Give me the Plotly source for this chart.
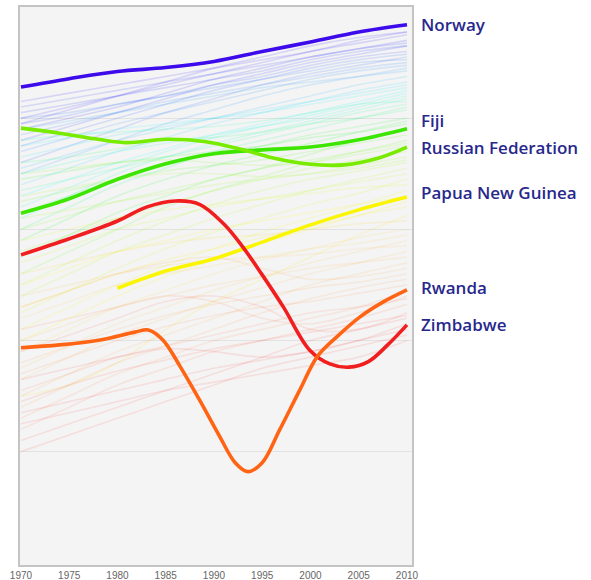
import plotly.graph_objects as go
import colorsys

# ---------------- data ----------------
years5 = [1970, 1975, 1980, 1985, 1990, 1995, 2000, 2005, 2010]
x_ticks = [1970, 1975, 1980, 1985, 1990, 1995, 2000, 2005, 2010]

norway_years = [1970, 1975, 1980, 1985, 1990, 1995, 2000, 2005, 2010]
norway_vals = [0.856, 0.871, 0.884, 0.891, 0.902, 0.920, 0.937, 0.955, 0.968]

russia_years = [1970, 1974, 1978, 1981, 1985, 1989, 1993, 1996.5, 2000, 2003.5, 2007, 2010]
russia_vals = [0.782, 0.773, 0.762, 0.756, 0.762, 0.758, 0.743, 0.727, 0.717, 0.716, 0.728, 0.748]

fiji_years = [1970, 1975, 1980, 1985, 1990, 1995, 2000, 2005, 2010]
fiji_vals = [0.629, 0.655, 0.690, 0.718, 0.736, 0.743, 0.748, 0.761, 0.781]

png_years = [1980, 1985, 1990, 1995, 2000, 2005, 2010]
png_vals = [0.494, 0.525, 0.547, 0.577, 0.608, 0.635, 0.658]

zimbabwe_years = [1970, 1975, 1980, 1983, 1986, 1988.5, 1991, 1993, 1995, 1997.2, 1999.9,
                  2002, 2004, 2006, 2008, 2010]
zimbabwe_vals = [0.554, 0.583, 0.615, 0.640, 0.651, 0.645, 0.610, 0.568, 0.518, 0.460, 0.383,
                 0.358, 0.352, 0.362, 0.392, 0.428]

rwanda_years = [1970, 1974, 1978.2, 1981.8, 1983.2, 1984.7, 1986.5, 1988.5, 1990.6, 1992.2, 1993.5,
                1995, 1996.8, 1998.9, 2000.7, 2002.7, 2005.1, 2007.5, 2010]
rwanda_vals = [0.387, 0.392, 0.401, 0.415, 0.419, 0.401, 0.353, 0.293, 0.227, 0.180, 0.164,
               0.180, 0.239, 0.311, 0.371, 0.406, 0.442, 0.469, 0.491]

# faint background countries (values at 1970, 1975, ..., 2010)
background = [
    [0.80, 0.82, 0.84, 0.86, 0.88, 0.90, 0.92, 0.935, 0.950],
    [0.78, 0.80, 0.82, 0.845, 0.87, 0.89, 0.91, 0.925, 0.940],
    [0.82, 0.835, 0.85, 0.865, 0.88, 0.895, 0.91, 0.925, 0.935],
    [0.76, 0.785, 0.81, 0.835, 0.86, 0.88, 0.90, 0.915, 0.930],
    [0.81, 0.825, 0.84, 0.855, 0.87, 0.885, 0.905, 0.92, 0.930],
    [0.79, 0.805, 0.825, 0.84, 0.86, 0.875, 0.895, 0.91, 0.920],
    [0.75, 0.775, 0.80, 0.825, 0.85, 0.87, 0.89, 0.905, 0.915],
    [0.72, 0.75, 0.78, 0.81, 0.835, 0.86, 0.88, 0.895, 0.910],
    [0.80, 0.81, 0.825, 0.84, 0.855, 0.87, 0.885, 0.90, 0.905],
    [0.77, 0.79, 0.81, 0.83, 0.845, 0.86, 0.875, 0.89, 0.900],
    [0.74, 0.765, 0.79, 0.81, 0.83, 0.85, 0.87, 0.885, 0.895],
    [0.70, 0.73, 0.76, 0.79, 0.815, 0.84, 0.86, 0.875, 0.890],
    [0.78, 0.795, 0.81, 0.825, 0.84, 0.855, 0.865, 0.875, 0.885],
    [0.83, 0.845, 0.86, 0.875, 0.89, 0.905, 0.92, 0.94, 0.955],
    [0.79, 0.815, 0.84, 0.865, 0.89, 0.91, 0.93, 0.945, 0.955],
    [0.71, 0.735, 0.76, 0.78, 0.80, 0.82, 0.84, 0.86, 0.875],
    [0.68, 0.71, 0.74, 0.765, 0.79, 0.81, 0.83, 0.85, 0.865],
    [0.73, 0.75, 0.77, 0.785, 0.80, 0.815, 0.83, 0.845, 0.860],
    [0.66, 0.69, 0.72, 0.745, 0.77, 0.79, 0.81, 0.83, 0.850],
    [0.75, 0.765, 0.78, 0.79, 0.80, 0.81, 0.825, 0.84, 0.855],
    [0.64, 0.675, 0.71, 0.74, 0.765, 0.785, 0.805, 0.825, 0.845],
    [0.70, 0.72, 0.74, 0.755, 0.77, 0.785, 0.80, 0.82, 0.840],
    [0.62, 0.66, 0.70, 0.73, 0.755, 0.775, 0.795, 0.815, 0.835],
    [0.76, 0.77, 0.775, 0.78, 0.785, 0.795, 0.81, 0.825, 0.830],
    [0.67, 0.69, 0.71, 0.73, 0.75, 0.77, 0.79, 0.81, 0.825],
    [0.60, 0.64, 0.68, 0.71, 0.74, 0.76, 0.78, 0.80, 0.820],
    [0.72, 0.73, 0.745, 0.76, 0.765, 0.775, 0.79, 0.80, 0.815],
    [0.63, 0.66, 0.69, 0.715, 0.735, 0.75, 0.77, 0.785, 0.800],
    [0.58, 0.62, 0.66, 0.69, 0.715, 0.735, 0.755, 0.775, 0.795],
    [0.69, 0.705, 0.72, 0.73, 0.74, 0.75, 0.765, 0.775, 0.790],
    [0.55, 0.59, 0.63, 0.66, 0.69, 0.71, 0.735, 0.76, 0.780],
    [0.65, 0.67, 0.69, 0.705, 0.715, 0.725, 0.74, 0.755, 0.770],
    [0.52, 0.56, 0.60, 0.64, 0.67, 0.695, 0.72, 0.74, 0.760],
    [0.60, 0.625, 0.65, 0.67, 0.69, 0.71, 0.725, 0.74, 0.755],
    [0.70, 0.71, 0.72, 0.725, 0.72, 0.715, 0.72, 0.735, 0.750],
    [0.56, 0.59, 0.62, 0.645, 0.67, 0.69, 0.71, 0.725, 0.740],
    [0.62, 0.635, 0.65, 0.665, 0.68, 0.69, 0.70, 0.715, 0.730],
    [0.50, 0.54, 0.58, 0.615, 0.645, 0.67, 0.69, 0.705, 0.720],
    [0.66, 0.675, 0.69, 0.70, 0.70, 0.695, 0.70, 0.71, 0.725],
    [0.48, 0.52, 0.56, 0.59, 0.62, 0.645, 0.67, 0.69, 0.710],
    [0.54, 0.57, 0.60, 0.62, 0.64, 0.655, 0.67, 0.685, 0.700],
    [0.45, 0.49, 0.53, 0.565, 0.595, 0.62, 0.645, 0.665, 0.690],
    [0.58, 0.60, 0.62, 0.635, 0.645, 0.655, 0.665, 0.675, 0.680],
    [0.42, 0.46, 0.50, 0.535, 0.565, 0.595, 0.62, 0.645, 0.670],
    [0.50, 0.53, 0.56, 0.58, 0.60, 0.615, 0.63, 0.645, 0.660],
    [0.40, 0.44, 0.48, 0.515, 0.545, 0.575, 0.60, 0.625, 0.650],
    [0.46, 0.49, 0.52, 0.545, 0.565, 0.585, 0.605, 0.625, 0.640],
    [0.30, 0.32, 0.36, 0.42, 0.47, 0.51, 0.55, 0.59, 0.625],
    [0.52, 0.54, 0.56, 0.575, 0.585, 0.59, 0.60, 0.61, 0.615],
    [0.38, 0.42, 0.46, 0.49, 0.52, 0.545, 0.565, 0.585, 0.600],
    [0.44, 0.47, 0.50, 0.52, 0.535, 0.55, 0.565, 0.575, 0.590],
    [0.35, 0.39, 0.43, 0.46, 0.49, 0.515, 0.54, 0.56, 0.580],
    [0.48, 0.50, 0.52, 0.535, 0.545, 0.55, 0.555, 0.565, 0.570],
    [0.33, 0.37, 0.41, 0.44, 0.47, 0.495, 0.52, 0.54, 0.560],
    [0.40, 0.43, 0.46, 0.48, 0.50, 0.515, 0.53, 0.54, 0.550],
    [0.30, 0.34, 0.38, 0.41, 0.44, 0.47, 0.50, 0.52, 0.540],
    [0.46, 0.49, 0.52, 0.54, 0.55, 0.53, 0.51, 0.515, 0.530],
    [0.36, 0.39, 0.42, 0.445, 0.465, 0.48, 0.495, 0.505, 0.520],
    [0.28, 0.32, 0.36, 0.39, 0.42, 0.45, 0.475, 0.495, 0.510],
    [0.34, 0.37, 0.40, 0.425, 0.445, 0.46, 0.47, 0.485, 0.500],
    [0.26, 0.30, 0.34, 0.37, 0.40, 0.42, 0.44, 0.46, 0.490],
    [0.42, 0.44, 0.46, 0.48, 0.47, 0.44, 0.43, 0.45, 0.480],
    [0.31, 0.34, 0.37, 0.39, 0.41, 0.43, 0.45, 0.46, 0.475],
    [0.24, 0.28, 0.32, 0.35, 0.38, 0.40, 0.42, 0.44, 0.465],
    [0.38, 0.41, 0.44, 0.47, 0.48, 0.46, 0.42, 0.42, 0.450],
    [0.29, 0.32, 0.345, 0.365, 0.385, 0.40, 0.415, 0.43, 0.445],
    [0.22, 0.25, 0.28, 0.31, 0.34, 0.37, 0.40, 0.42, 0.440],
    [0.33, 0.35, 0.37, 0.385, 0.38, 0.37, 0.38, 0.40, 0.430],
    [0.27, 0.29, 0.31, 0.33, 0.35, 0.365, 0.38, 0.40, 0.420],
    [0.20, 0.23, 0.26, 0.29, 0.32, 0.35, 0.37, 0.39, 0.410],
    [0.25, 0.27, 0.29, 0.31, 0.325, 0.34, 0.355, 0.37, 0.400],
]

labels = ["Norway", "Fiji", "Russian Federation", "Papua New Guinea", "Rwanda", "Zimbabwe"]
label_y = [0.968, 0.795, 0.748, 0.666, 0.495, 0.428]

# ---------------- styling helpers ----------------
hue_stops = [(0.40, 0), (0.43, 0), (0.49, 22), (0.66, 60), (0.75, 92), (0.78, 110),
             (0.85, 180), (0.90, 215), (0.97, 255)]


def hue_for(v):
    if v <= hue_stops[0][0]:
        return hue_stops[0][1]
    for (a, ha), (b, hb) in zip(hue_stops[:-1], hue_stops[1:]):
        if a <= v <= b:
            return ha + (hb - ha) * (v - a) / (b - a)
    return hue_stops[-1][1]


def rgba(h, alpha):
    r, g, b = colorsys.hls_to_rgb(h / 360.0, 0.5, 1.0)
    return f"rgba({int(r*255)},{int(g*255)},{int(b*255)},{alpha})"


fig = go.Figure()

for series in background:
    a = 0.13 if series[-1] > 0.6 else 0.09
    fig.add_trace(go.Scatter(
        x=years5, y=series, mode="lines",
        line=dict(color=rgba(hue_for(series[-1]), a), width=1.6, shape="spline", smoothing=1.0),
        hoverinfo="skip", showlegend=False))

highlights = [
    (norway_years, norway_vals, "rgb(60,10,235)"),
    (fiji_years, fiji_vals, "rgb(60,230,0)"),
    (russia_years, russia_vals, "rgb(120,235,0)"),
    (png_years, png_vals, "rgb(250,245,0)"),
    (zimbabwe_years, zimbabwe_vals, "rgb(240,30,30)"),
    (rwanda_years, rwanda_vals, "rgb(255,100,20)"),
]
names = ["Norway", "Fiji", "Russian Federation", "Papua New Guinea", "Zimbabwe", "Rwanda"]
for (xs, ys, col), nm in zip(highlights, names):
    fig.add_trace(go.Scatter(
        x=xs, y=ys, mode="lines", name=nm,
        line=dict(color=col, width=3.6, shape="spline", smoothing=1.0),
        showlegend=False))

for txt, yv in zip(labels, label_y):
    fig.add_annotation(
        x=2010, y=yv, xref="x", yref="y", text=txt, showarrow=False,
        xanchor="left", yanchor="middle", xshift=12,
        font=dict(family="Open Sans", size=17, color="rgb(40,40,140)", weight=600))

fig.update_layout(
    width=591, height=580,
    margin=dict(l=20, r=179, t=7, b=15),
    paper_bgcolor="white", plot_bgcolor="#f4f4f4",
    showlegend=False,
    xaxis=dict(range=[1969.9, 2010.52], tickvals=x_ticks, ticktext=[str(t) for t in x_ticks],
               showgrid=False, zeroline=False, showline=True, mirror=True,
               linecolor="#c4c4c4", linewidth=2, ticks="", automargin=False,
               tickfont=dict(family="Arial", size=10, color="#666666")),
    yaxis=dict(range=[-0.004, 1.0], tickvals=[0.2, 0.4, 0.6, 0.8], showticklabels=False,
               showgrid=True, gridcolor="#e2e2e2", gridwidth=1, zeroline=False,
               showline=True, mirror=True, linecolor="#c4c4c4", linewidth=2,
               ticks="", automargin=False),
)

fig.write_html("out.html", config={"displayModeBar": False},
               post_script="document.body.style.margin='0';document.body.style.overflow='hidden';")
